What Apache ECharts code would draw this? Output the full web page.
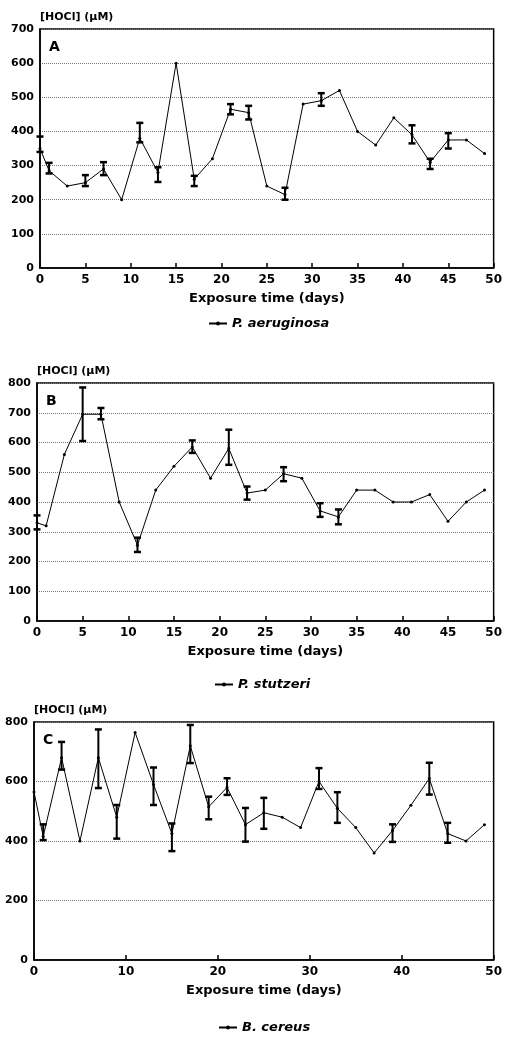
<!DOCTYPE html>
<html>
<head>
<meta charset="utf-8">
<script src="https://cdn.jsdelivr.net/npm/echarts@6/dist/echarts.min.js"></script>
<style>
html, body { margin: 0; padding: 0; background: #fff; }
#main { width: 505px; height: 1038px; }
</style>
</head>
<body>
<div id="main"></div>
<script>
// sampling days (same for the three strains)
var days = [0, 1, 3, 5, 7, 9, 11, 13, 15, 17, 19, 21, 23, 25, 27, 29, 31, 33, 35, 37, 39, 41, 43, 45, 47, 49];

// A - P. aeruginosa
var hoclA = [350, 285, 240, 250, 290, 200, 380, 280, 600, 260, 320, 465, 455, 240, 215, 480, 490, 520, 400, 360, 440, 390, 310, 375, 375, 335];
var errDaysA = [0, 1, 5, 7, 11, 13, 17, 21, 23, 27, 31, 41, 43, 45];
var errLowA  = [340, 277, 240, 272, 368, 252, 240, 450, 435, 200, 475, 365, 290, 350];
var errHighA = [385, 308, 272, 310, 425, 295, 270, 480, 475, 235, 512, 418, 320, 395];

// B - P. stutzeri
var hoclB = [330, 320, 560, 695, 695, 400, 255, 440, 520, 585, 480, 580, 430, 440, 495, 480, 370, 350, 440, 440, 400, 400, 425, 335, 400, 440];
var errDaysB = [0, 5, 7, 11, 17, 21, 23, 27, 31, 33];
var errLowB  = [308, 605, 678, 232, 565, 525, 408, 470, 350, 325];
var errHighB = [355, 785, 716, 280, 607, 643, 452, 517, 396, 375];

// C - B. cereus
var hoclC = [565, 415, 680, 400, 680, 480, 765, 590, 425, 720, 515, 580, 455, 495, 480, 445, 600, 510, 445, 360, 435, 520, 610, 425, 400, 455];
var errDaysC = [1, 3, 7, 9, 13, 15, 17, 19, 21, 23, 25, 31, 33, 39, 43, 45];
var errLowC  = [403, 640, 578, 408, 521, 366, 662, 473, 555, 398, 441, 575, 461, 397, 556, 394];
var errHighC = [456, 733, 775, 521, 647, 459, 790, 549, 611, 511, 545, 645, 564, 456, 663, 461];

var strains = ['P. aeruginosa', 'P. stutzeri', 'B. cereus'];
var panelLetters = ['A', 'B', 'C'];
var yMax = [700, 800, 800];
var yStep = [100, 100, 200];
var xStep = [5, 10];

var FONT = 'DejaVu Sans';

function pairs(xs, ys) {
    var out = [];
    for (var i = 0; i < xs.length; i++) out.push([xs[i], ys[i]]);
    return out;
}
function triples(xs, lo, hi) {
    var out = [];
    for (var i = 0; i < xs.length; i++) out.push([xs[i], lo[i], hi[i]]);
    return out;
}

function renderErr(params, api) {
    var x = api.value(0);
    var lo = api.coord([x, api.value(1)]);
    var hi = api.coord([x, api.value(2)]);
    var cap = 3.5;
    var st = { stroke: '#000', lineWidth: 2 };
    return {
        type: 'group',
        children: [
            { type: 'line', shape: { x1: lo[0], y1: lo[1], x2: hi[0], y2: hi[1] }, style: st },
            { type: 'line', shape: { x1: lo[0] - cap, y1: lo[1], x2: lo[0] + cap, y2: lo[1] }, style: { stroke: '#000', lineWidth: 2.5 } },
            { type: 'line', shape: { x1: hi[0] - cap, y1: hi[1], x2: hi[0] + cap, y2: hi[1] }, style: { stroke: '#000', lineWidth: 2.5 } }
        ]
    };
}

var lineData = [pairs(days, hoclA), pairs(days, hoclB), pairs(days, hoclC)];
var errData = [
    triples(errDaysA, errLowA, errHighA),
    triples(errDaysB, errLowB, errHighB),
    triples(errDaysC, errLowC, errHighC)
];

var grids = [
    { left: 40, top: 29, width: 457, height: 239 },
    { left: 37, top: 383, width: 459, height: 238 },
    { left: 34, top: 722, width: 462, height: 238 }
];
var legendPos = [
    { left: 203, top: 312 },
    { left: 209, top: 673 },
    { left: 213, top: 1016 }
];

var xAxes = [], yAxes = [], series = [], legends = [], graphics = [];

for (var i = 0; i < 3; i++) {
    grids[i].show = true;
    grids[i].borderColor = '#000';
    grids[i].borderWidth = 1.5;

    xAxes.push({
        type: 'value',
        gridIndex: i,
        min: 0,
        max: 50,
        interval: i < 2 ? xStep[0] : xStep[1],
        name: 'Exposure time (days)',
        nameLocation: 'middle',
        nameGap: 24,
        nameTextStyle: { color: '#000', fontFamily: FONT, fontWeight: 'bold', fontSize: 13 },
        axisLine: { lineStyle: { color: '#000', width: 1.5 } },
        axisTick: { inside: true, length: 5, lineStyle: { color: '#000', width: 1.5 } },
        axisLabel: { margin: 6, color: '#000', fontFamily: FONT, fontWeight: 'bold', fontSize: 12 },
        splitLine: { show: false }
    });

    yAxes.push({
        type: 'value',
        gridIndex: i,
        min: 0,
        max: yMax[i],
        interval: yStep[i],
        name: '[HOCl] (\u03bcM)',
        nameLocation: 'end',
        nameGap: 6,
        nameTextStyle: { align: 'left', color: '#000', fontFamily: FONT, fontWeight: 'bold', fontSize: 11 },
        axisLine: { show: true, lineStyle: { color: '#000', width: 1.5 } },
        axisTick: { show: false },
        axisLabel: { margin: 6, color: '#000', fontFamily: FONT, fontWeight: 'bold', fontSize: 11 },
        splitLine: { lineStyle: { type: 'dotted', color: '#777', width: 1 } }
    });

    series.push({
        name: strains[i],
        type: 'line',
        xAxisIndex: i,
        yAxisIndex: i,
        data: lineData[i],
        symbol: 'circle',
        symbolSize: 3,
        lineStyle: { color: '#000', width: 1 },
        itemStyle: { color: '#000' },
        animation: false
    });

    series.push({
        type: 'custom',
        xAxisIndex: i,
        yAxisIndex: i,
        data: errData[i],
        encode: { x: 0, y: [1, 2] },
        renderItem: renderErr,
        animation: false,
        z: 3
    });

    legends.push({
        data: [strains[i]],
        left: legendPos[i].left,
        top: legendPos[i].top,
        itemWidth: 18,
        itemHeight: 5,
        textStyle: { color: '#000', fontFamily: FONT, fontWeight: 'bold', fontStyle: 'italic', fontSize: 13 }
    });

    graphics.push({
        type: 'text',
        left: grids[i].left + 9,
        top: grids[i].top + 11,
        style: { text: panelLetters[i], fill: '#000', font: 'bold 14px "DejaVu Sans"' }
    });
}

var chart = echarts.init(document.getElementById('main'));
chart.setOption({
    backgroundColor: '#fff',
    animation: false,
    grid: grids,
    xAxis: xAxes,
    yAxis: yAxes,
    legend: legends,
    graphic: graphics,
    series: series
});
</script>
</body>
</html>
